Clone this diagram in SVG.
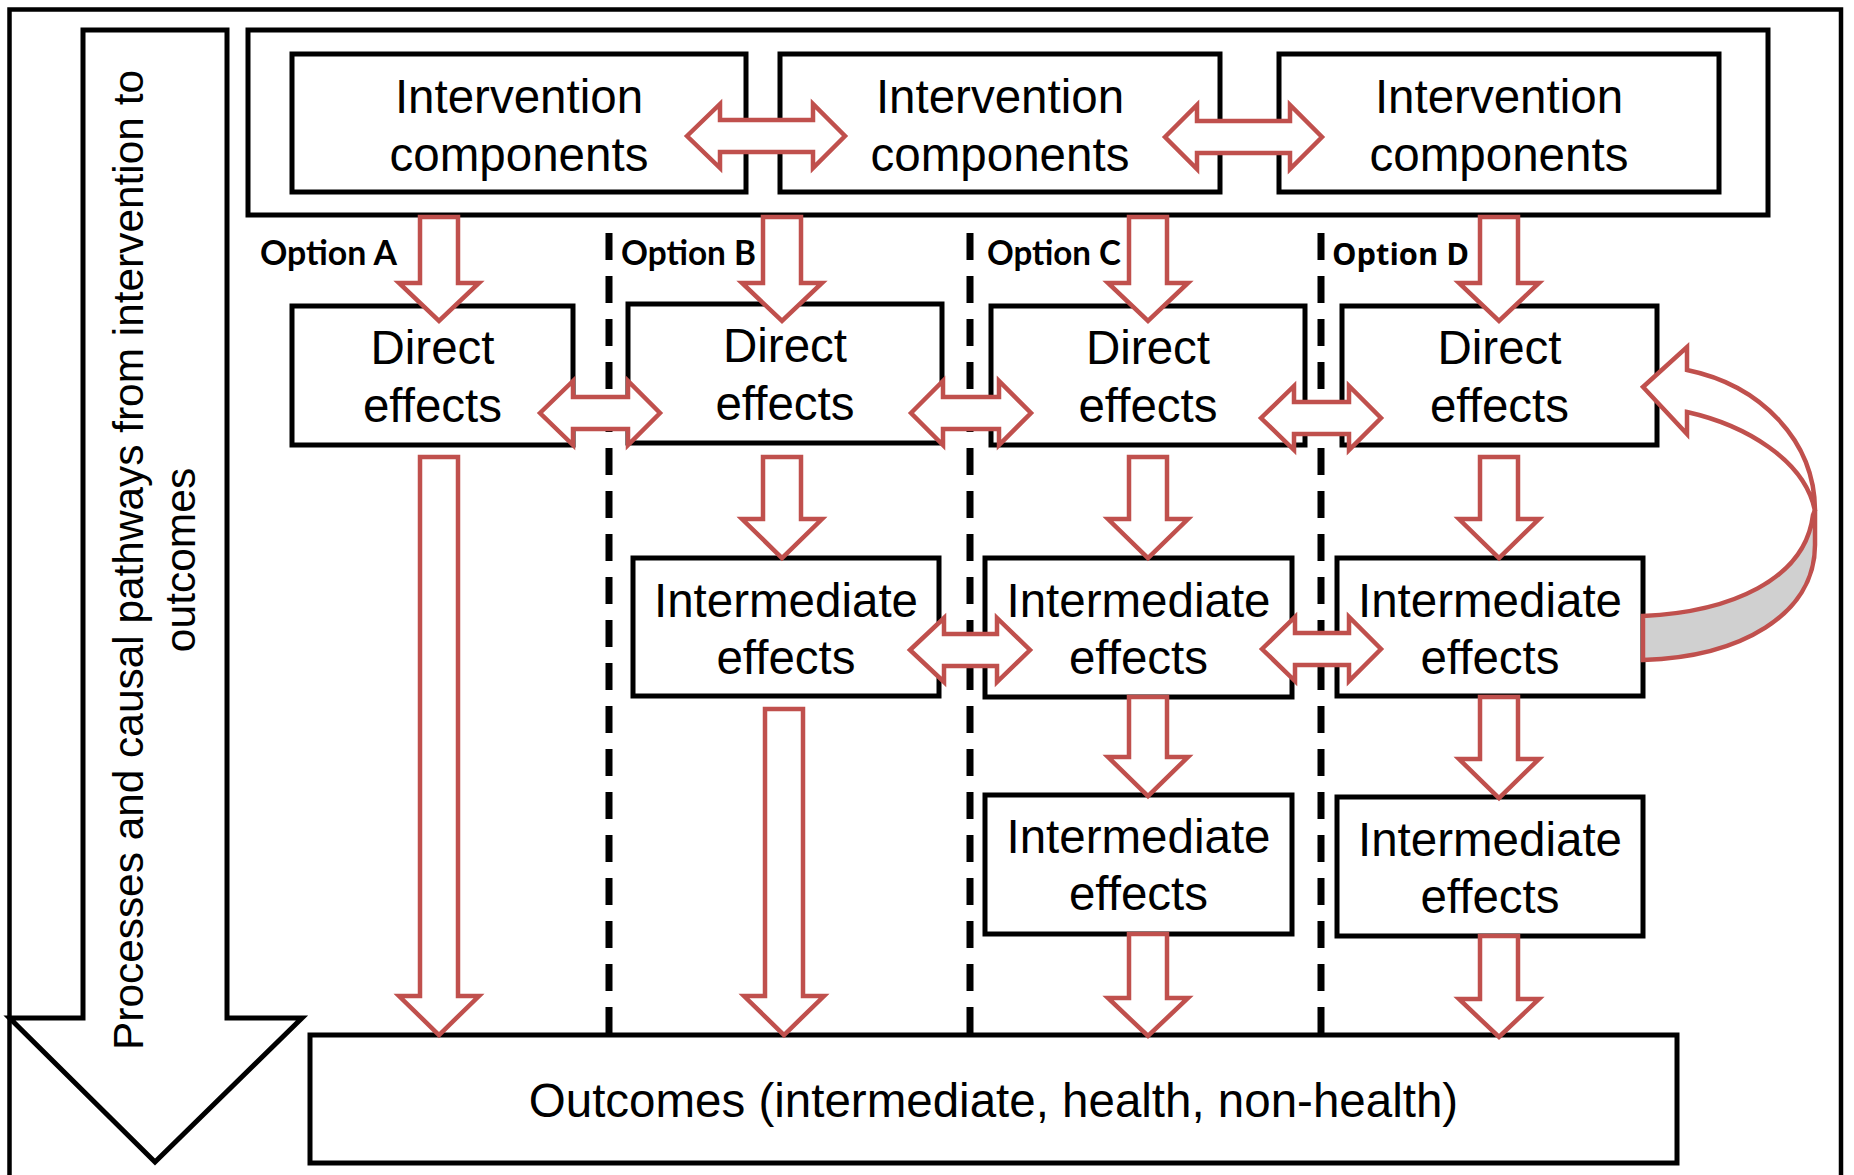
<svg xmlns="http://www.w3.org/2000/svg" width="1854" height="1175" viewBox="0 0 1854 1175">
<defs>
<style>
.frame{fill:none;stroke:#000;stroke-width:4.5}
.box{fill:#fff;stroke:#000;stroke-width:5;stroke-linejoin:miter}
.dash{stroke:#000;stroke-width:7;stroke-dasharray:27 16;fill:none}
.arr{fill:#fff;stroke:#C0504D;stroke-width:4.5;stroke-linejoin:miter}
.back{fill:#D0D0D0;stroke:#C0504D;stroke-width:4.5;stroke-linejoin:miter}
.t{font-family:"Liberation Sans",Arial,sans-serif;font-size:47.5px;fill:#000;text-anchor:middle}
.side{font-family:"Liberation Sans",Arial,sans-serif;font-size:42.5px;fill:#000;text-anchor:middle}
.opt{font-family:Lato,"Liberation Sans",sans-serif;font-weight:bold;font-size:34px;fill:#000}
.optd{font-family:"Open Sans","Liberation Sans",sans-serif;font-weight:bold;font-size:30px;fill:#000}
</style>
</defs>
<rect width="1854" height="1175" fill="#fff"/>
<rect class="frame" x="9.5" y="9.5" width="1831.5" height="1200"/>

<g id="pathway-arrow">
<path class="frame" d="M83,30 H227 V1018 H302 L155,1162 L9.5,1018 H83 Z" style="stroke-width:5"/>
<text class="side" transform="translate(143,560) rotate(-90)"><tspan x="0" y="0" textLength="980" lengthAdjust="spacingAndGlyphs">Processes and causal pathways from intervention to</tspan><tspan x="0" y="52">outcomes</tspan></text>
</g>

<g id="dividers">
<line class="dash" x1="609" y1="1034" x2="609" y2="217"/>
<line class="dash" x1="970" y1="1034" x2="970" y2="217"/>
<line class="dash" x1="1321" y1="1034" x2="1321" y2="217"/>
</g>

<g id="intervention-container">
<rect class="box" x="248" y="30" width="1520" height="185"/>
</g>
<g id="ic1"><rect class="box" x="292" y="54" width="454" height="138"/><text class="t" x="519" y="113">Intervention<tspan x="519" y="171">components</tspan></text></g>
<g id="ic2"><rect class="box" x="780" y="54" width="440" height="138"/><text class="t" x="1000" y="113">Intervention<tspan x="1000" y="171">components</tspan></text></g>
<g id="ic3"><rect class="box" x="1279" y="54" width="440" height="138"/><text class="t" x="1499" y="113">Intervention<tspan x="1499" y="171">components</tspan></text></g>

<g id="options">
<text class="opt" x="260" y="265" textLength="137" lengthAdjust="spacingAndGlyphs">Option A</text>
<text class="opt" x="621" y="265" textLength="135" lengthAdjust="spacingAndGlyphs">Option B</text>
<text class="opt" x="987" y="265" textLength="134" lengthAdjust="spacingAndGlyphs">Option C</text>
<text class="optd" x="1332" y="265" textLength="137" lengthAdjust="spacingAndGlyphs">Option D</text>
</g>

<g id="directA"><rect class="box" x="292" y="306" width="281" height="139"/><text class="t" x="432.5" y="364">Direct<tspan x="432.5" y="422">effects</tspan></text></g>
<g id="directB"><rect class="box" x="628" y="304" width="314" height="139"/><text class="t" x="785" y="362">Direct<tspan x="785" y="420">effects</tspan></text></g>
<g id="directC"><rect class="box" x="991" y="306" width="314" height="139"/><text class="t" x="1148" y="364">Direct<tspan x="1148" y="422">effects</tspan></text></g>
<g id="directD"><rect class="box" x="1342" y="306" width="315" height="139"/><text class="t" x="1499.5" y="364">Direct<tspan x="1499.5" y="422">effects</tspan></text></g>

<g id="interB1"><rect class="box" x="633" y="558" width="306" height="138"/><text class="t" x="786" y="617">Intermediate<tspan x="786" y="674">effects</tspan></text></g>
<g id="interC1"><rect class="box" x="985" y="558" width="307" height="139"/><text class="t" x="1138.5" y="617">Intermediate<tspan x="1138.5" y="674">effects</tspan></text></g>
<g id="interD1"><rect class="box" x="1337" y="558" width="306" height="138"/><text class="t" x="1490" y="617">Intermediate<tspan x="1490" y="674">effects</tspan></text></g>
<g id="interC2"><rect class="box" x="985" y="795" width="307" height="139"/><text class="t" x="1138.5" y="853">Intermediate<tspan x="1138.5" y="910">effects</tspan></text></g>
<g id="interD2"><rect class="box" x="1337" y="797" width="306" height="139"/><text class="t" x="1490" y="856">Intermediate<tspan x="1490" y="913">effects</tspan></text></g>

<g id="outcomes"><rect class="box" x="310" y="1035" width="1367" height="128"/><text class="t" x="993.5" y="1117">Outcomes (intermediate, health, non-health)</text></g>

<g id="connectors">
<path class="arr" d="M420,217 H458 V283 H479 L439,321 L399,283 H420 Z"/>
<path class="arr" d="M763,217 H801 V283 H822 L782,321 L742,283 H763 Z"/>
<path class="arr" d="M1129,217 H1167 V283 H1188 L1148,321 L1108,283 H1129 Z"/>
<path class="arr" d="M1480,217 H1518 V283 H1539 L1499,321 L1459,283 H1480 Z"/>
<path class="arr" d="M763,457 H801 V519 H822 L782,558 L742,519 H763 Z"/>
<path class="arr" d="M1129,457 H1167 V519 H1188 L1148,558 L1108,519 H1129 Z"/>
<path class="arr" d="M1480,457 H1518 V519 H1539 L1499,558 L1459,519 H1480 Z"/>
<path class="arr" d="M420,457 H458 V996 H479 L439,1035 L399,996 H420 Z"/>
<path class="arr" d="M765,709 H803 V996 H824 L784,1035 L744,996 H765 Z"/>
<path class="arr" d="M1129,697 H1167 V757 H1188 L1148,796 L1108,757 H1129 Z"/>
<path class="arr" d="M1480,697 H1518 V759 H1539 L1499,798 L1459,759 H1480 Z"/>
<path class="arr" d="M1129,934 H1167 V998 H1188 L1148,1036 L1108,998 H1129 Z"/>
<path class="arr" d="M1480,936 H1518 V999 H1539 L1499,1037 L1459,999 H1480 Z"/>

<path class="arr" d="M687,136 L720,104 V120 H813 V104 L845,136 L813,168 V152 H720 V168 Z"/>
<path class="arr" d="M1165,137 L1197,105 V121 H1290 V105 L1322,137 L1290,169 V153 H1197 V169 Z"/>
<path class="arr" d="M540,413 L573,381 V397 H628 V381 L660,413 L628,445 V429 H573 V445 Z"/>
<path class="arr" d="M911,413 L943,381 V397 H999 V381 L1031,413 L999,445 V429 H943 V445 Z"/>
<path class="arr" d="M1261,418 L1294,386 V402 H1349 V386 L1381,418 L1349,450 V434 H1294 V450 Z"/>
<path class="arr" d="M910,650 L944,618 V634 H997 V618 L1030,650 L997,682 V666 H944 V682 Z"/>
<path class="arr" d="M1262,649 L1295,617 V633 H1349 V617 L1381,649 L1349,681 V665 H1295 V681 Z"/>

<path class="back" d="M1643,616 C1730,612 1805,580 1813,515 L1815,510 L1815,545 C1815,615 1740,657 1643,660 Z"/>
<path class="arr" d="M1643,387 L1687,347 L1687,370 C1760,385 1815,440 1815,511 C1805,460 1745,425 1687,412 L1687,434 Z"/>
</g>
</svg>
